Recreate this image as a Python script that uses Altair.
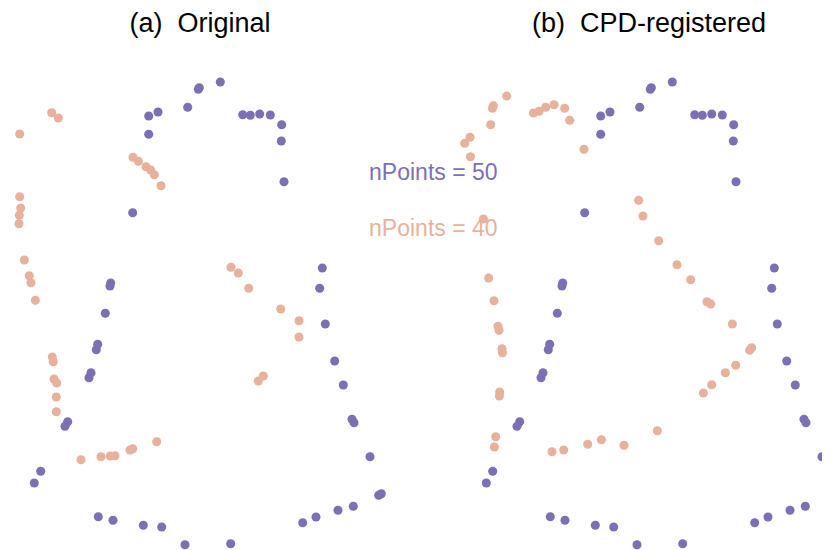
import altair as alt
import pandas as pd

# Target point set (nPoints = 50), same in both panels
target_x = [199.3, 198.3, 187.7, 158.0, 148.7, 148.7, 132.7, 110.7, 110.0, 105.3,
            97.7, 96.3, 91.0, 89.0, 67.7, 65.0, 40.7, 34.3, 98.3, 113.0,
            143.3, 161.7, 185.0, 230.7, 302.7, 316.0, 338.0, 353.3, 378.7, 381.3,
            370.0, 352.0, 354.0, 343.3, 334.7, 325.3, 319.7, 322.3, 284.0, 281.3,
            281.7, 270.3, 259.7, 250.3, 242.7, 220.3]
target_y = [86.7, 88.3, 106.3, 111.0, 115.0, 133.3, 211.7, 282.0, 285.0, 312.3,
            343.3, 348.7, 371.7, 376.7, 420.7, 425.3, 470.3, 482.0, 515.7, 519.3,
            524.3, 526.0, 543.7, 542.7, 521.7, 516.0, 509.3, 505.3, 494.3, 492.7,
            455.7, 418.3, 421.7, 384.0, 360.0, 323.0, 287.3, 267.0, 180.7, 140.0,
            123.7, 114.0, 113.0, 114.3, 113.7, 81.0]

# Source point set (nPoints = 40), original
orig_x = [51.7, 58.3, 19.7, 133.0, 138.3, 146.0, 150.7, 154.3, 161.0, 19.7,
          20.7, 19.3, 19.0, 24.3, 29.3, 31.0, 35.3, 231.0, 238.3, 248.7,
          280.7, 299.0, 299.0, 263.3, 258.3, 52.3, 53.3, 54.0, 56.7, 56.3,
          56.3, 81.0, 101.0, 110.3, 115.0, 130.0, 132.7, 156.7]
orig_y = [111.7, 117.0, 133.0, 156.3, 160.3, 165.7, 169.0, 173.7, 184.7, 195.7,
          207.0, 214.3, 222.7, 259.0, 274.7, 281.7, 299.3, 266.3, 272.0, 287.3,
          308.0, 319.7, 336.0, 375.0, 380.0, 356.0, 360.7, 378.0, 382.0, 396.0,
          410.7, 458.7, 455.7, 455.0, 454.7, 449.0, 447.7, 440.7]

# Source point set after CPD registration
reg_x = [54.7, 41.4, 40.4, 38.7, 18.0, 12.7, 18.4, 81.4, 87.0, 93.7,
         102.0, 112.7, 117.7, 132.0, 186.7, 191.0, 31.4, 36.7, 42.0, 206.7,
         225.0, 238.7, 255.0, 258.7, 46.0, 47.0, 50.0, 50.4, 47.7, 47.4,
         43.7, 42.4, 100.0, 111.7, 135.7, 149.4, 172.0, 280.4, 299.7, 297.7,
         283.7, 273.4, 259.7, 251.4, 205.4]
reg_y = [95.0, 104.7, 107.3, 123.7, 136.3, 142.3, 155.7, 112.0, 110.3, 106.3,
         103.7, 107.3, 119.3, 148.3, 199.3, 215.0, 218.0, 277.0, 299.7, 239.7,
         263.7, 278.7, 300.7, 303.0, 325.3, 329.3, 347.7, 351.7, 391.0, 395.0,
         435.7, 446.0, 450.7, 449.0, 443.3, 438.7, 444.3, 323.0, 346.7, 349.3,
         364.3, 371.7, 383.7, 392.0, 429.7]

label_text = ["nPoints = 50", "nPoints = 40"]
label_x = [433.3, 433.3]
label_y = [179.3, 235.0]

panel_titles = ["(a) \u00a0Original", "(b) \u00a0CPD-registered"]

PURPLE = "#7d6fb4"
ORANGE = "#e8b19b"
FONT = "Liberation Sans"

W, H = 384, 515
WR = 362
Y0 = 39
xs = alt.Scale(domain=[8, 8 + W], nice=False, zero=False)
xs_r = alt.Scale(domain=[8, 8 + WR], nice=False, zero=False)
ys = alt.Scale(domain=[Y0, Y0 + H], reverse=True, nice=False, zero=False)

target_df = pd.DataFrame({"x": target_x, "y": target_y})
orig_df = pd.DataFrame({"x": orig_x, "y": orig_y})
reg_df = pd.DataFrame({"x": reg_x, "y": reg_y})
label_df = pd.DataFrame({"x": label_x, "y": label_y, "t": label_text})


def pts(df, color, xscale, clip=False):
    return alt.Chart(df).mark_circle(size=82, opacity=1, color=color, clip=clip).encode(
        x=alt.X("x:Q", scale=xscale, axis=None),
        y=alt.Y("y:Q", scale=ys, axis=None),
    )


def title(t, dx=0):
    return alt.TitleParams(t, fontSize=27, font=FONT, fontWeight="normal",
                           color="black", anchor="middle", offset=2, dx=dx)


labels = alt.Chart(label_df).mark_text(
    font=FONT, fontSize=23, align="center", baseline="alphabetic"
).encode(
    x=alt.X("x:Q", scale=xs, axis=None),
    y=alt.Y("y:Q", scale=ys, axis=None),
    text="t:N",
    color=alt.Color("t:N", scale=alt.Scale(domain=label_text, range=[PURPLE, ORANGE]), legend=None),
)

left = alt.layer(labels, pts(target_df, PURPLE, xs), pts(orig_df, ORANGE, xs)).properties(
    width=W, height=H, title=title(panel_titles[0]))
right = alt.layer(pts(target_df, PURPLE, xs_r, True), pts(reg_df, ORANGE, xs_r, True)).properties(
    width=WR, height=H, title=title(panel_titles[1], dx=8))

chart = alt.hconcat(left, right, spacing=68, bounds="flush").configure_view(
    stroke=None).properties(padding={"top": 2, "left": 0, "right": 0, "bottom": 0})

chart.save("out.html", embed_options={"renderer": "svg", "actions": False})
